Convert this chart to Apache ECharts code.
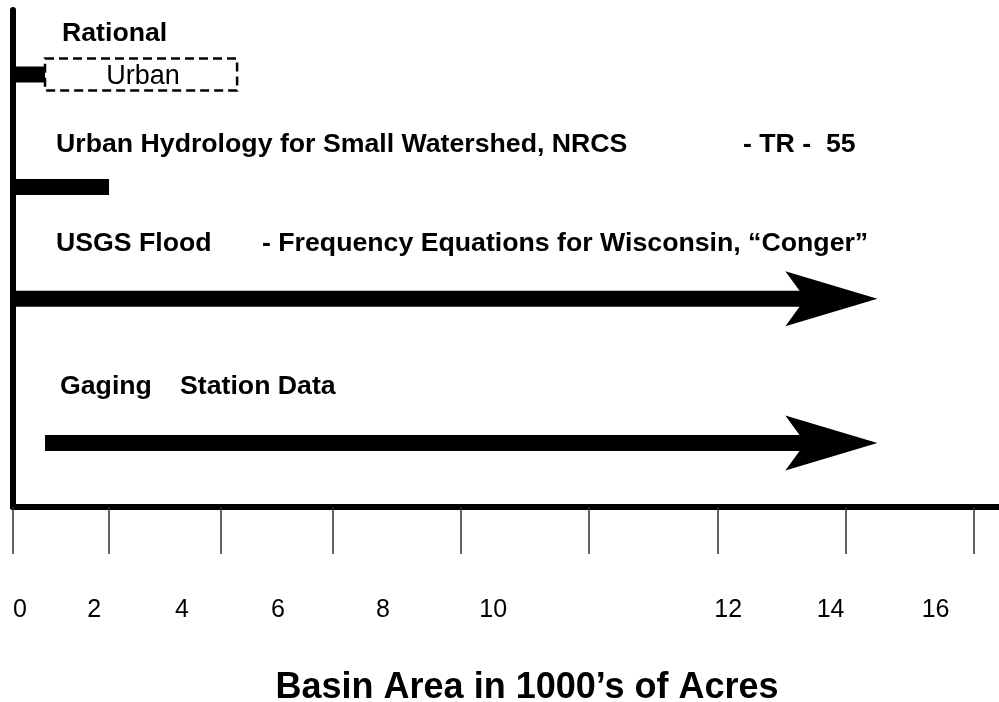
<!DOCTYPE html>
<html>
<head>
<meta charset="utf-8">
<title>Basin Area in 1000's of Acres</title>
<script src="https://cdn.jsdelivr.net/npm/echarts@6/dist/echarts.min.js"></script>
<style>
  html, body { margin: 0; padding: 0; background: #fff; }
  #main { width: 999px; height: 702px; }
</style>
</head>
<body>
<div id="main"></div>
<script>
// methods, one row each
const methods = ['Rational', 'Urban Hydrology (TR-55)', 'USGS Flood-Frequency', 'Gaging Station Data']
// range of basin area each method covers (axis units)
const rangeFrom = [0, 0, 0, 0.5]
const rangeTo = [0.5, 1.5, 13.5, 13.5]
// 1 = open ended (drawn as an arrow)
const openEnded = [0, 0, 1, 1]
// vertical level of each row (0 = top, 100 = bottom)
const rowLevel = [13, 35.6, 58.1, 87.1]
// dashed "Urban" extension of the Rational method
const urbanRange = [0.5, 3.5]

// x axis ticks and labels
const tickAt = [0, 1.5, 3.25, 5, 7, 9, 11, 13, 15]
const labelAt = [0.11, 1.27, 2.64, 4.14, 5.78, 7.5, 11.17, 12.77, 14.41]
const tickLabels = ['0', '2', '4', '6', '8', '10', '12', '14', '16']

const FONT = "'Liberation Sans', Arial, sans-serif"

const dom = document.querySelector('#main')
const myChart = echarts.init(dom)

// label text for each custom label position
const labelMap = {}
labelAt.forEach((v, i) => { labelMap[v] = tickLabels[i] })

// bars and arrows
function renderRange(params, api) {
  const y = api.value(2)
  const p0 = api.coord([api.value(0), y])
  const p1 = api.coord([api.value(1), y])
  const h = 16
  const style = { fill: '#000' }
  if (!api.value(3)) {
    return {
      type: 'rect',
      shape: { x: p0[0], y: p0[1] - h / 2, width: p1[0] - p0[0], height: h },
      style
    }
  }
  // arrow: shaft + head
  const tip = p1[0]
  const headLen = 92
  const notch = 72
  const half = 27.5
  return {
    type: 'group',
    children: [
      {
        type: 'rect',
        shape: { x: p0[0], y: p0[1] - h / 2, width: tip - notch + 2 - p0[0], height: h },
        style
      },
      {
        type: 'polygon',
        shape: {
          points: [
            [tip - headLen, p1[1] - half],
            [tip, p1[1]],
            [tip - headLen, p1[1] + half],
            [tip - notch, p1[1]]
          ]
        },
        style
      }
    ]
  }
}

// dashed box for the Urban extension
function renderBox(params, api) {
  const y = api.value(2)
  const p0 = api.coord([api.value(0), y])
  const p1 = api.coord([api.value(1), y])
  const h = 32
  return {
    type: 'group',
    children: [
      {
        type: 'rect',
        shape: { x: p0[0], y: p0[1] - h / 2, width: p1[0] - p0[0], height: h },
        style: { fill: 'none', stroke: '#000', lineWidth: 2.5, lineDash: [9, 5] }
      },
      {
        type: 'text',
        style: {
          text: 'Urban',
          x: (p0[0] + p1[0]) / 2 + 2,
          y: p0[1] + 2,
          align: 'center',
          verticalAlign: 'middle',
          font: '27px ' + FONT,
          fill: '#000'
        }
      }
    ]
  }
}

// row captions
function caption(text, x, y) {
  return {
    type: 'text',
    style: {
      text, x, y,
      verticalAlign: 'middle',
      font: 'bold 26.7px ' + FONT,
      fill: '#000'
    }
  }
}

const option = {
  animation: false,
  backgroundColor: '#fff',
  title: {
    text: 'Basin Area in 1000\u2019s of Acres',
    left: 522,
    top: 665,
    textAlign: 'center',
    textStyle: { fontFamily: FONT, fontSize: 36, fontWeight: 'bold', color: '#000' }
  },
  grid: { left: 13, right: 0, top: 10, bottom: 195 },
  xAxis: {
    type: 'value',
    min: 0,
    max: 15.4,
    position: 'bottom',
    splitLine: { show: false },
    axisLine: { show: true, onZero: false, lineStyle: { color: '#000', width: 6 } },
    axisTick: {
      show: true,
      customValues: tickAt,
      length: 47,
      lineStyle: { color: '#333', width: 1.5 }
    },
    axisLabel: {
      customValues: labelAt,
      margin: 91,
      fontFamily: FONT,
      fontSize: 25,
      color: '#000',
      formatter: v => labelMap[v] || ''
    }
  },
  yAxis: {
    type: 'value',
    inverse: true,
    min: 0,
    max: 100,
    splitLine: { show: false },
    axisTick: { show: false },
    axisLabel: { show: false },
    axisLine: { show: true, onZero: false, lineStyle: { color: '#000', width: 6 } }
  },
  graphic: [
    caption('Rational', 62, 34),
    caption('Urban Hydrology for Small Watershed, NRCS', 56, 145),
    caption('- TR -  55', 743, 145),
    caption('USGS Flood', 56, 244),
    caption('- Frequency Equations for Wisconsin, \u201cConger\u201d', 262, 244),
    caption('Gaging', 60, 387),
    caption('Station Data', 180, 387)
  ],
  series: [
    {
      type: 'custom',
      name: 'Urban',
      clip: false,
      renderItem: renderBox,
      data: [[urbanRange[0], urbanRange[1], rowLevel[0]]]
    },
    {
      type: 'custom',
      name: 'Methods',
      clip: false,
      renderItem: renderRange,
      data: methods.map((m, i) => ({
        name: m,
        value: [rangeFrom[i], rangeTo[i], rowLevel[i], openEnded[i]]
      }))
    }
  ]
}

myChart.setOption(option)
</script>
</body>
</html>
